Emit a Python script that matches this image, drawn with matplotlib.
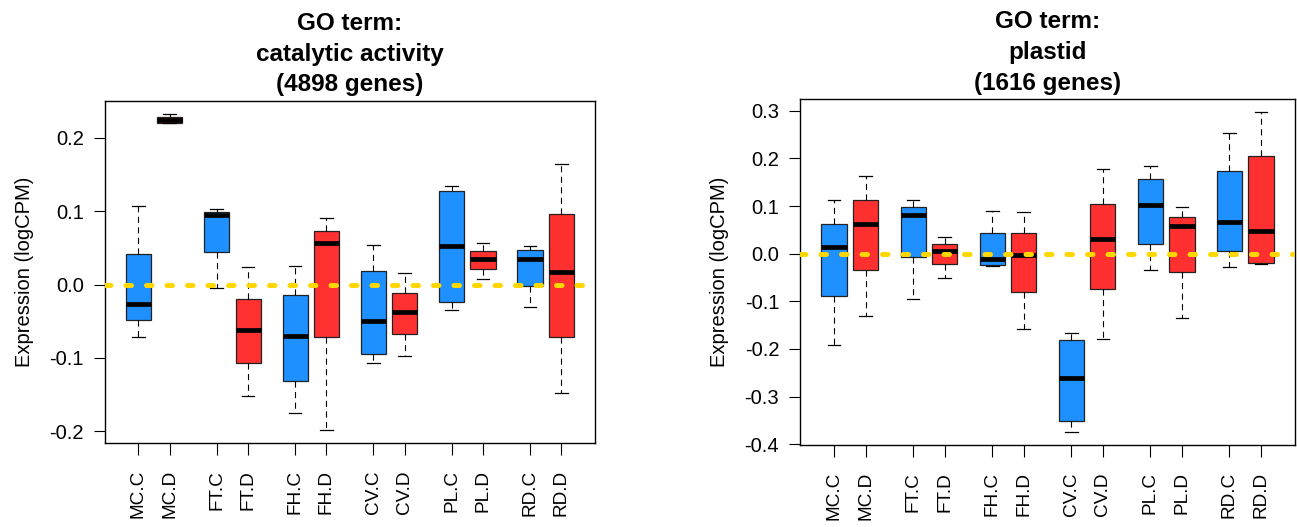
#!/usr/bin/env python3
import numpy as np
import matplotlib
matplotlib.use("Agg")
import matplotlib.pyplot as plt
from matplotlib.ticker import FormatStrFormatter

# sample labels (control / drought for each site)
labels = ["MC.C", "MC.D", "FT.C", "FT.D", "FH.C", "FH.D",
          "CV.C", "CV.D", "PL.C", "PL.D", "RD.C", "RD.D"]

# GO term: catalytic activity
cat_whishi = [0.1065, 0.233, 0.1033, 0.0237, 0.0246, 0.091,
              0.0537, 0.0155, 0.134, 0.0573, 0.0532, 0.1647]
cat_q3 = [0.041, 0.228, 0.0992, -0.0191, -0.0141, 0.0728,
          0.0182, -0.0114, 0.127, 0.0455, 0.0469, 0.096]
cat_med = [-0.026, 0.225, 0.095, -0.0619, -0.0696, 0.056,
           -0.0491, -0.0378, 0.0528, 0.0346, 0.0346, 0.0164]
cat_q1 = [-0.0487, 0.2207, 0.045, -0.1074, -0.131, -0.0714,
          -0.0942, -0.0673, -0.0241, 0.0205, -0.0023, -0.071]
cat_whislo = [-0.0719, 0.2198, -0.005, -0.152, -0.1757, -0.1989,
              -0.107, -0.0969, -0.0341, 0.0077, -0.0305, -0.1474]

# GO term: plastid
pla_whishi = [0.1126, 0.1636, 0.1126, 0.0343, 0.0888, 0.0881,
              -0.167, 0.1769, 0.1832, 0.0979, 0.2531, 0.2972]
pla_q3 = [0.0622, 0.1133, 0.0972, 0.0196, 0.044, 0.0427,
          -0.1804, 0.1035, 0.1566, 0.0776, 0.1734, 0.2056]
pla_med = [0.014, 0.0629, 0.0818, 0.0049, -0.0119, -0.0028,
           -0.2608, 0.0308, 0.1021, 0.058, 0.0657, 0.0483]
pla_q1 = [-0.0888, -0.0343, -0.0063, -0.0224, -0.0245, -0.0797,
          -0.3517, -0.0748, 0.0203, -0.0385, 0.0049, -0.0189]
pla_whislo = [-0.1909, -0.130, -0.0944, -0.0503, -0.0266, -0.158,
              -0.3748, -0.179, -0.035, -0.135, -0.0273, -0.0217]

panels = [
    ("GO term:\ncatalytic activity\n(4898 genes)",
     cat_whislo, cat_q1, cat_med, cat_q3, cat_whishi, [-0.2, -0.1, 0.0, 0.1, 0.2]),
    ("GO term:\nplastid\n(1616 genes)",
     pla_whislo, pla_q1, pla_med, pla_q3, pla_whishi,
     [-0.4, -0.3, -0.2, -0.1, 0.0, 0.1, 0.2, 0.3]),
]

plt.rcParams["font.family"] = ["Liberation Sans", "DejaVu Sans"]
plt.rcParams["axes.unicode_minus"] = False

BLUE = "#1E90FF"
RED = "#FF3030"


def draw_panel(ax, title, wlo, q1, med, q3, whi, yticks):
    stats = []
    for i, lab in enumerate(labels):
        stats.append(dict(label=lab, whislo=wlo[i], q1=q1[i], med=med[i],
                          q3=q3[i], whishi=whi[i], fliers=[]))
    pos = [1 + 2.5 * (i // 2) + (i % 2) for i in range(len(labels))]
    bp = ax.bxp(stats, positions=pos, widths=0.8, patch_artist=True,
                showfliers=False,
                boxprops=dict(edgecolor="#222222", linewidth=0.9),
                medianprops=dict(color="black", linewidth=3.4, solid_capstyle="butt"),
                whiskerprops=dict(color="black", linewidth=0.8, linestyle=(0, (5.5, 4))),
                capprops=dict(color="black", linewidth=0.9),
                capwidths=0.4)
    for i, patch in enumerate(bp["boxes"]):
        patch.set_facecolor(BLUE if i % 2 == 0 else RED)

    # R-style 4% padding on the data range
    lo, hi = min(wlo), max(whi)
    span = hi - lo
    ax.set_ylim(lo - 0.04 * span, hi + 0.04 * span)
    ax.set_xlim(pos[0] - 0.5 - 0.04 * (pos[-1] - pos[0] + 1),
                pos[-1] + 0.5 + 0.04 * (pos[-1] - pos[0] + 1))

    ax.axhline(0, color="#FFD700", linewidth=3.6, linestyle=(0, (1.1, 3.0)),
               dash_capstyle="round", zorder=5)

    ax.set_yticks(yticks)
    ax.yaxis.set_major_formatter(FormatStrFormatter("%.1f"))
    ax.set_xticks(pos)
    ax.set_xticklabels(labels, rotation=90, va="top", ha="center")
    ax.tick_params(axis="y", length=8, width=0.8, pad=7, labelsize=14.5)
    ax.tick_params(axis="x", length=8.5, width=0.8, pad=11, labelsize=13.7)
    for sp in ax.spines.values():
        sp.set_linewidth(1.0)
    ax.set_ylabel("Expression (logCPM)", fontsize=14.5, labelpad=11)
    ax.set_title(title, fontsize=17.5, fontweight="bold", pad=7, linespacing=1.42)


def main():
    fig = plt.figure(figsize=(12.97, 5.27), dpi=100)
    ax1 = fig.add_axes([0.0806, 0.1594, 0.3783, 0.6489])
    ax2 = fig.add_axes([0.6168, 0.1556, 0.3817, 0.6560])
    for ax, p in zip([ax1, ax2], panels):
        draw_panel(ax, *p)
    fig.savefig("out.png", dpi=100)


if __name__ == "__main__":
    main()
